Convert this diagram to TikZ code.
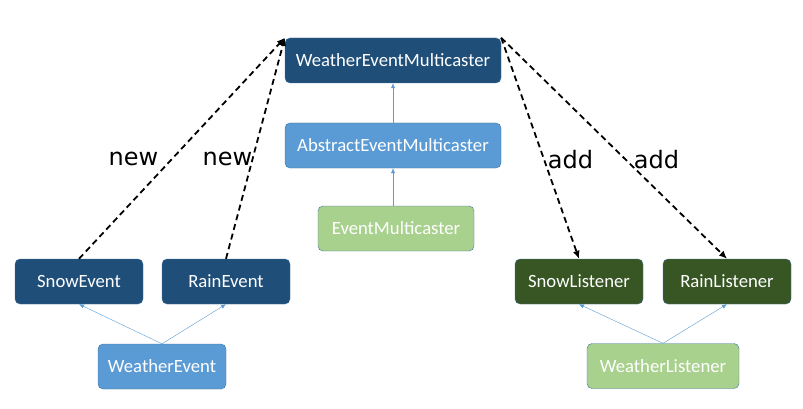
\documentclass[tikz,border=0pt]{standalone}
\usepackage{fontspec}
\setmainfont{Carlito}
\newfontfamily\tagfont{DejaVu Sans}
\usetikzlibrary{arrows.meta}

\definecolor{darkblue}{HTML}{1F4E79}
\definecolor{midblue}{HTML}{5B9BD5}
\definecolor{darkgreen}{HTML}{375623}
\definecolor{lightgreen}{HTML}{A9D18E}
\definecolor{edgeblue}{HTML}{41719C}

\begin{document}
\begin{tikzpicture}[x=1pt,y=-1pt]
        \tikzset{cls/.style={draw=edgeblue,rounded corners=5pt,minimum height=45pt,
                text=white,font=\fontsize{18.7}{21}\selectfont,inner sep=0pt},
            dark/.style={cls,fill=darkblue},
            mid/.style={cls,fill=midblue},
            dgreen/.style={cls,fill=darkgreen},
            lgreen/.style={cls,fill=lightgreen},
            inherit/.style={draw=midblue,-{Latex[length=5pt,width=4pt]}},
            uses/.style={draw,dash pattern=on 6pt off 4pt,line width=1.8pt,
                -{Latex[length=8pt,width=7pt]}},
            tag/.style={font=\tagfont\fontsize{24}{28}\selectfont,anchor=base}}
        \useasboundingbox (0,0) rectangle (803,409);
        \node[dark,minimum width=216pt] (wem) at (393,60.5) {WeatherEventMulticaster};
        \node[mid,minimum width=216pt] (aem) at (393,145.5) {AbstractEventMulticaster};
        \node[lgreen,minimum width=156pt] (em) at (396,228.5) {EventMulticaster};
        \node[dark,minimum width=128pt] (snow) at (79,281.5) {SnowEvent};
        \node[dark,minimum width=128pt] (rain) at (226,281.5) {RainEvent};
        \node[mid,minimum width=128pt] (we) at (162,366.5) {WeatherEvent};
        \node[dgreen,minimum width=128pt] (snowl) at (579,281.5) {SnowListener};
        \node[dgreen,minimum width=128pt] (rainl) at (727,281.5) {RainListener};
        \node[lgreen,minimum width=152pt] (wl) at (663,366) {WeatherListener};
        \draw[inherit] (aem) -- (wem);
        \draw[inherit] (em.north -| aem) -- (aem);
        \draw[inherit] (we.north) -- (snow.south);
        \draw[inherit] (we.north) -- (rain.south);
        \draw[inherit] (wl.north) -- (snowl.south);
        \draw[inherit] (wl.north) -- (rainl.south);
        \draw[uses] (snow.north) -- (wem.north west);
        \draw[uses] (rain.north) -- (wem.north west);
        \draw[uses] (wem.north east) -- (snowl.north);
        \draw[uses] (wem.north east) -- (rainl.north);
        \node[tag] (new1) at (133.5,165) {new};
        \node[tag] (new2) at (227.5,165) {new};
        \node[tag] (add1) at (570.5,168) {add};
        \node[tag] (add2) at (656.5,168) {add};
    \end{tikzpicture}
\end{document}
